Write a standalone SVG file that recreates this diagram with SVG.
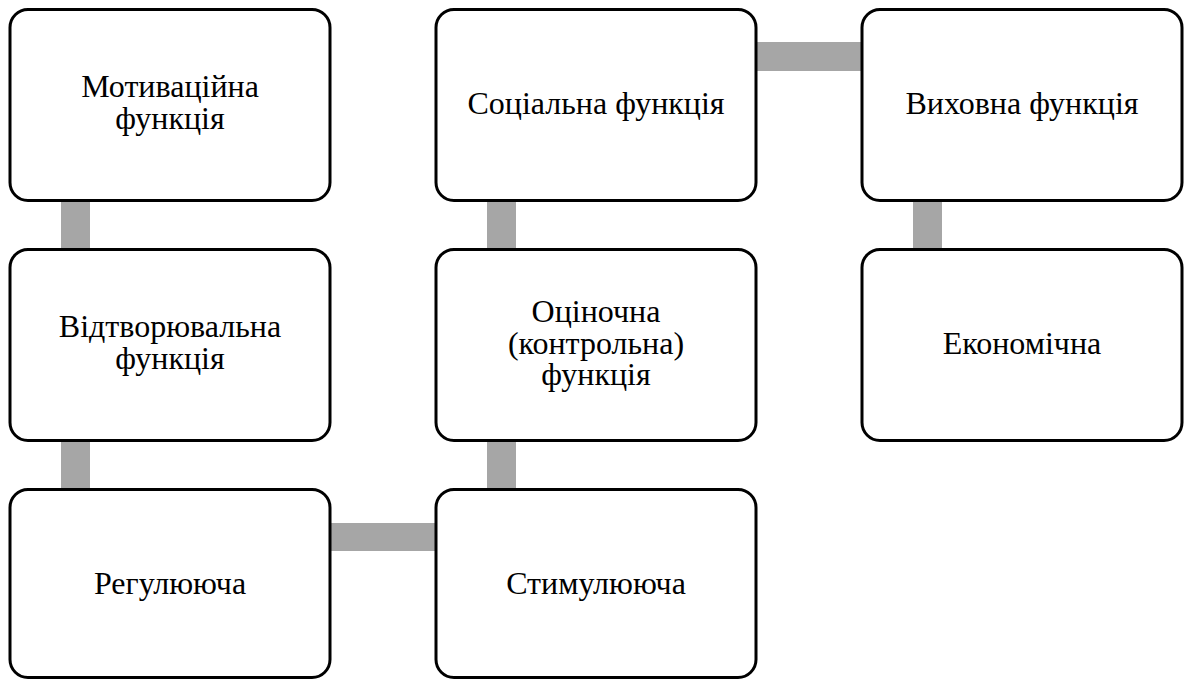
<svg xmlns="http://www.w3.org/2000/svg" width="1187" height="679" viewBox="0 0 1187 679">
<style>
.box{fill:#fff;stroke:#000;stroke-width:3}
.lbl{font-family:'Liberation Serif','DejaVu Serif',serif;font-size:32px;fill:#000;text-anchor:middle}
.con{fill:#a6a6a6}
</style>
<rect width="1187" height="679" fill="#fff"/>
<g id="connectors">
<rect class="con" x="61" y="200" width="29" height="50"/>
<rect class="con" x="61" y="440" width="29" height="50"/>
<rect class="con" x="330" y="523" width="107" height="28"/>
<rect class="con" x="487" y="440" width="29" height="50"/>
<rect class="con" x="487" y="200" width="29" height="50"/>
<rect class="con" x="756" y="42" width="107" height="29"/>
<rect class="con" x="913" y="200" width="29" height="50"/>
</g>
<g id="n1"><rect class="box" x="10" y="9.5" width="320" height="191" rx="18"/>
<text class="lbl"><tspan x="170" y="97">Мотиваційна</tspan><tspan x="170" y="129">функція</tspan></text></g>
<g id="n2"><rect class="box" x="10" y="249.5" width="320" height="191" rx="18"/>
<text class="lbl"><tspan x="170" y="337">Відтворювальна</tspan><tspan x="170" y="369">функція</tspan></text></g>
<g id="n3"><rect class="box" x="10" y="489.5" width="320" height="188" rx="18"/>
<text class="lbl" x="170" y="594">Регулююча</text></g>
<g id="n4"><rect class="box" x="436" y="489.5" width="320" height="188" rx="18"/>
<text class="lbl" x="596" y="594">Стимулююча</text></g>
<g id="n5"><rect class="box" x="436" y="249.5" width="320" height="191" rx="18"/>
<text class="lbl"><tspan x="596" y="322">Оціночна</tspan><tspan x="596" y="353.5">(контрольна)</tspan><tspan x="596" y="385">функція</tspan></text></g>
<g id="n6"><rect class="box" x="436" y="9.5" width="320" height="191" rx="18"/>
<text class="lbl" x="596" y="114">Соціальна функція</text></g>
<g id="n7"><rect class="box" x="862" y="9.5" width="320" height="191" rx="18"/>
<text class="lbl" x="1022" y="114">Виховна функція</text></g>
<g id="n8"><rect class="box" x="862" y="249.5" width="320" height="191" rx="18"/>
<text class="lbl" x="1022" y="354">Економічна</text></g>
</svg>
